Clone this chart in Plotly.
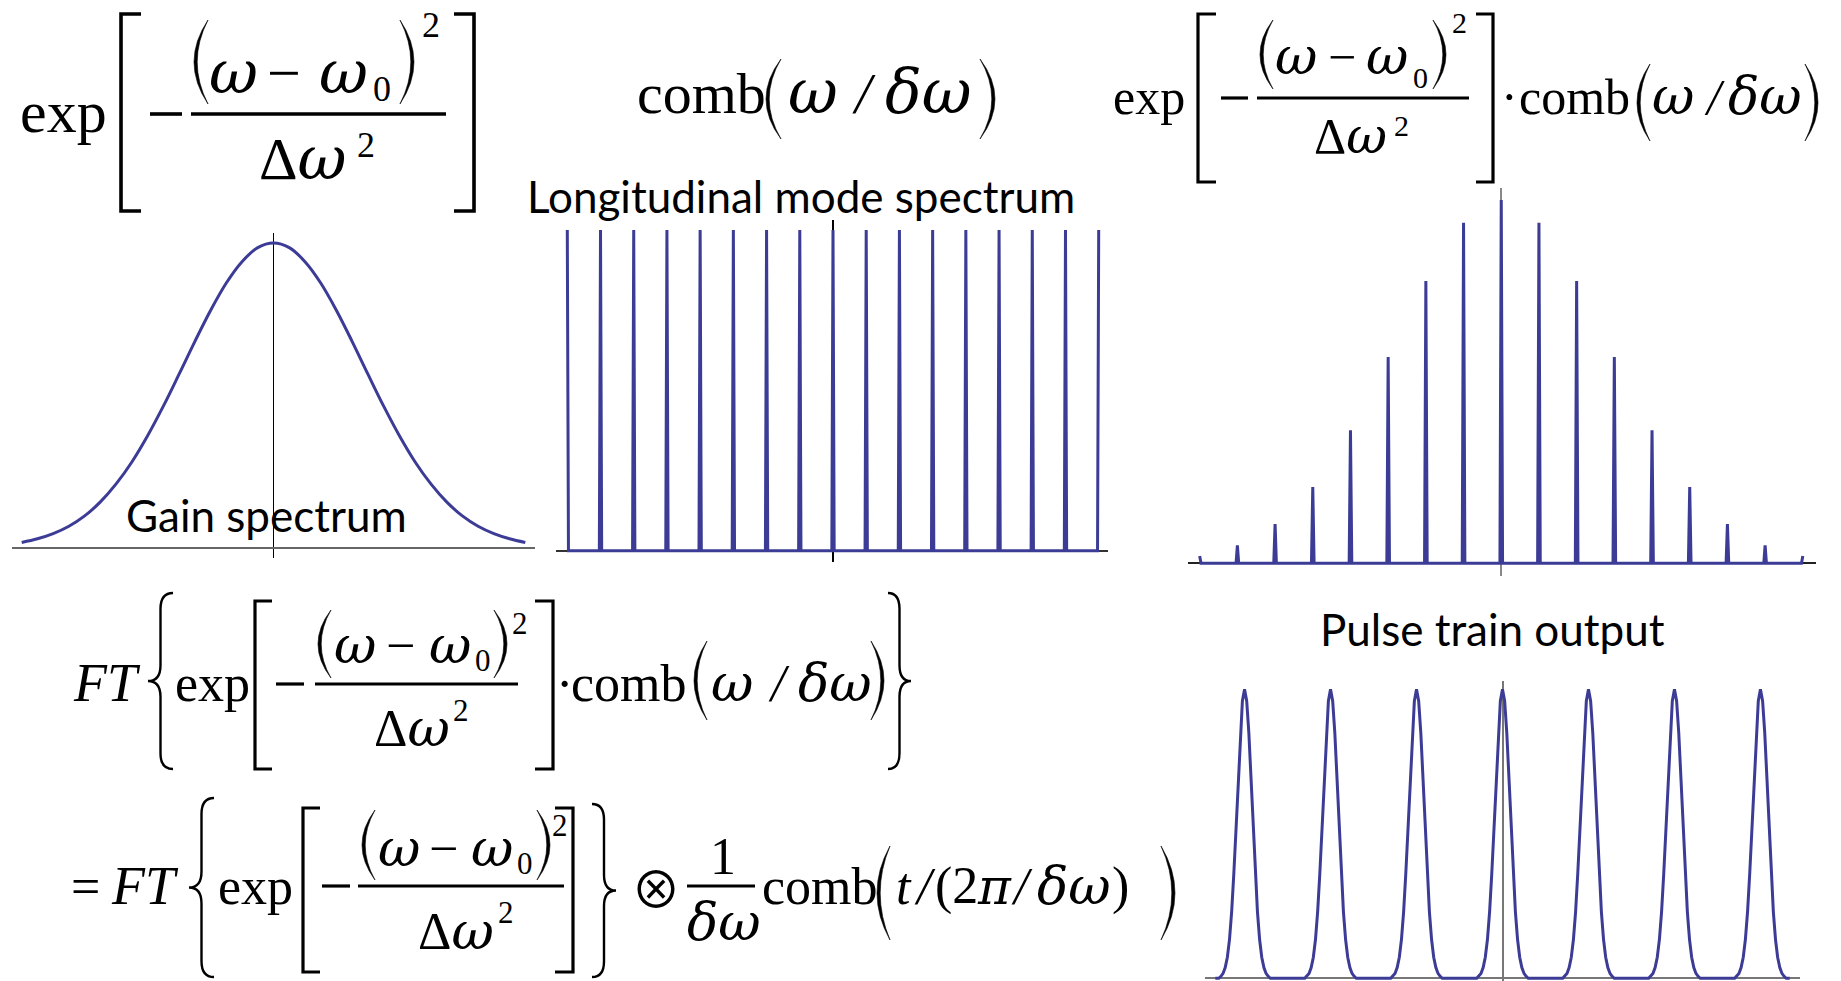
import plotly.graph_objects as go

W, H = 1841, 981

# ------------------------------------------------------------------ data
# Gain spectrum, sampled (normalised frequency offset, relative gain)
gain_u = [-2.0, -1.875, -1.75, -1.625, -1.5, -1.375, -1.25, -1.125, -1.0, -0.875, -0.75,
          -0.625, -0.5, -0.375, -0.25, -0.125, 0.0, 0.125, 0.25, 0.375, 0.5, 0.625, 0.75,
          0.875, 1.0, 1.125, 1.25, 1.375, 1.5, 1.625, 1.75, 1.875, 2.0]
gain_level = [0.018, 0.030, 0.047, 0.071, 0.105, 0.151, 0.210, 0.282, 0.368, 0.465, 0.570,
              0.677, 0.779, 0.869, 0.939, 0.985, 1.000, 0.985, 0.939, 0.869, 0.779, 0.677,
              0.570, 0.465, 0.368, 0.282, 0.210, 0.151, 0.105, 0.071, 0.047, 0.030, 0.018]

# Longitudinal modes (mode index, amplitude)
mode_n = [-8, -7, -6, -5, -4, -3, -2, -1, 0, 1, 2, 3, 4, 5, 6, 7, 8]
mode_amp = [1.0, 1.0, 1.0, 1.0, 1.0, 1.0, 1.0, 1.0, 1.0, 1.0, 1.0, 1.0, 1.0, 1.0, 1.0, 1.0, 1.0]

# Gain x comb (mode amplitudes)
product_amp = [0.020, 0.049, 0.108, 0.210, 0.366, 0.568, 0.777, 0.937, 1.000,
               0.937, 0.777, 0.568, 0.366, 0.210, 0.108, 0.049, 0.020]

# Pulse train (time in round-trip periods)
pulse_centers = [-3, -2, -1, 0, 1, 2, 3]
pulse_offsets = [-0.3, -0.275, -0.25, -0.225, -0.2, -0.175, -0.15, -0.125, -0.1, -0.075, -0.05,
                 -0.025, 0.0, 0.025, 0.05, 0.075, 0.1, 0.125, 0.15, 0.175, 0.2, 0.225, 0.25,
                 0.275, 0.3]
pulse_profile = [0.0, 0.007, 0.017, 0.037, 0.073, 0.135, 0.230, 0.361, 0.520, 0.693, 0.849,
                 0.960, 1.0, 0.960, 0.849, 0.693, 0.520, 0.361, 0.230, 0.135, 0.073, 0.037,
                 0.017, 0.007, 0.0]
pulse_span = [-3.34, 3.34]

# ------------------------------------------------------------------ helpers
LINE = "rgb(60,60,150)"
SPIKE_W = 0.035


def comb_xy(ns, amps):
    xs, ys = [], []
    for i, (n, a) in enumerate(zip(ns, amps)):
        if i > 0:
            xs.append(n - SPIKE_W); ys.append(0)
        xs.append(n); ys.append(a)
        if i < len(ns) - 1:
            xs.append(n + SPIKE_W); ys.append(0)
    return xs, ys


def pulse_xy():
    xs, ys = [pulse_span[0]], [0]
    for c in pulse_centers:
        for d, v in zip(pulse_offsets, pulse_profile):
            xs.append(c + d); ys.append(v)
    xs.append(pulse_span[1]); ys.append(0)
    return xs, ys


def px(x):
    return x / W


def py(y):
    return 1 - y / H


def pt(x, y):
    return f"{px(x):.5f},{py(y):.5f}"


fig = go.Figure()

cx, cy = comb_xy(mode_n, mode_amp)
qx, qy = comb_xy(mode_n, product_amp)
tx, ty = pulse_xy()

fig.add_trace(go.Scatter(x=gain_u, y=gain_level, mode="lines", line=dict(color=LINE, width=3, shape="spline"),
                         xaxis="x", yaxis="y", hoverinfo="skip"))
fig.add_trace(go.Scatter(x=cx, y=cy, mode="lines", line=dict(color=LINE, width=3),
                         xaxis="x2", yaxis="y2", hoverinfo="skip"))
fig.add_trace(go.Scatter(x=qx, y=qy, mode="lines", line=dict(color=LINE, width=3),
                         xaxis="x3", yaxis="y3", hoverinfo="skip"))
fig.add_trace(go.Scatter(x=tx, y=ty, mode="lines", line=dict(color=LINE, width=3),
                         xaxis="x4", yaxis="y4", hoverinfo="skip"))


def xax(x0, x1, rng, col, wid):
    return dict(domain=[px(x0), px(x1)], range=rng, showgrid=False, showticklabels=False, ticks="",
                showline=False, zeroline=True, zerolinecolor=col, zerolinewidth=wid, fixedrange=True)


def yax(ytop, ybot, rng, col, wid):
    return dict(domain=[py(ybot), py(ytop)], range=rng, showgrid=False, showticklabels=False, ticks="",
                showline=False, zeroline=True, zerolinecolor=col, zerolinewidth=wid, fixedrange=True)


layout_axes = dict(
    xaxis=xax(12, 535, [-2.077, 2.077], "#000000", 1.3),
    yaxis=yax(233, 558, [-0.033, 1.033], "#666666", 1.6),
    xaxis2=xax(556, 1108, [-8.34, 8.28], "#000000", 1.5),
    yaxis2=yax(220, 562, [-0.035, 1.031], "#333333", 1.6),
    xaxis3=xax(1188, 1816, [-8.31, 8.35], "#888888", 2),
    yaxis3=yax(188, 576, [-0.035, 1.033], "#222222", 2),
    xaxis4=xax(1205, 1800, [-3.46, 3.46], "#777777", 2),
    yaxis4=yax(681, 981, [-0.0093, 1.029], "#777777", 2),
)

# ------------------------------------------------------------------ equation typesetting
SERIF = "Liberation Serif, Times New Roman, serif"
GREEK = "DejaVu Serif, Liberation Serif, serif"
SANS = "Lato, Open Sans, sans-serif"
ann = []
shapes = []


def T(s, x, base, size, it=False, fam=SERIF, k=0.3375, anchor="left"):
    txt = f"<i>{s}</i>" if it else s
    ann.append(dict(text=txt, x=px(x), y=py(base - k * size), xref="paper", yref="paper",
                    xanchor=anchor, yanchor="middle", showarrow=False, borderpad=0,
                    font=dict(family=fam, size=size, color="black")))


def G(s, x, base, size):
    """italic greek letters (wide, round omega)"""
    T(s, x, base, size, it=True, fam=GREEK, k=0.346)


def D(x, base, size):
    """Delta-omega in a single text run"""
    T("Δ<span style='font-family:DejaVu Serif'><i>ω</i></span>", x, base, size, k=0.34)


def Tc(s, x, yc, size, fam=SERIF):
    ann.append(dict(text=s, x=px(x), y=py(yc), xref="paper", yref="paper",
                    xanchor="left", yanchor="middle", showarrow=False, borderpad=0,
                    font=dict(family=fam, size=size, color="black")))


def L(x0, y0, x1, y1, w=3):
    shapes.append(dict(type="line", xref="paper", yref="paper", x0=px(x0), y0=py(y0), x1=px(x1), y1=py(y1),
                       line=dict(color="black", width=w)))


def bracket(x, serif, top, bot, w=3.5):
    shapes.append(dict(type="path", xref="paper", yref="paper",
                       path=f"M{pt(serif, top)} L{pt(x, top)} L{pt(x, bot)} L{pt(serif, bot)}",
                       line=dict(color="black", width=w), fillcolor="rgba(0,0,0,0)"))


def paren(outer, tip, top, bot, th=3.2):
    mid = (top + bot) / 2
    sgn = 1 if tip > outer else -1
    c_out = 2 * outer - tip
    c_in = 2 * (outer + sgn * th) - tip
    path = f"M{pt(tip, top)} Q{pt(c_out, mid)} {pt(tip, bot)} Q{pt(c_in, mid)} {pt(tip, top)} Z"
    shapes.append(dict(type="path", xref="paper", yref="paper", path=path,
                       line=dict(color="black", width=0.6), fillcolor="black"))


def brace(xa, xb, top, bot, w=2.4):
    xm = (xa + xb) / 2
    mid = (top + bot) / 2
    r = 0.09 * (bot - top)
    path = (f"M{pt(xa, top)} Q{pt(xm, top)} {pt(xm, top + r)} L{pt(xm, mid - r)} "
            f"Q{pt(xm, mid)} {pt(xb, mid)} Q{pt(xm, mid)} {pt(xm, mid + r)} "
            f"L{pt(xm, bot - r)} Q{pt(xm, bot)} {pt(xa, bot)}")
    shapes.append(dict(type="path", xref="paper", yref="paper", path=path,
                       line=dict(color="black", width=w), fillcolor="rgba(0,0,0,0)"))


# ---- Eq 1 : top-left
T("exp", 19, 132, 60)
bracket(121, 141, 14, 211, 3.6)
L(150, 114, 182, 114, 3.6)
L(191, 114, 446, 114, 3.6)
paren(194, 208, 20, 104)
G("ω", 208, 93, 60)
T("−", 266, 93, 60)
G("ω", 318, 93, 60)
T("0", 372, 101, 36)
paren(414, 400, 20, 104)
T("2", 421, 37, 36)
D(258, 178, 60)
T("2", 356, 157, 36)
bracket(474, 454, 14, 211, 3.6)

# ---- Eq 2 : comb
T("comb", 636, 113, 58)
paren(766, 781, 59, 139)
G("ω", 787, 113, 61)
T("/", 851, 113, 58, it=True)
G("δω", 884, 113, 61)
paren(995, 980, 59, 139)

# ---- Eq 3 : top-right
T("exp", 1112, 114, 50)
bracket(1198, 1216, 14, 182, 3.2)
L(1221, 98, 1248, 98, 3.2)
L(1257, 98, 1469, 98, 3.2)
paren(1260, 1273, 20, 89)
G("ω", 1274, 74, 52)
T("−", 1327, 74, 50)
G("ω", 1365, 74, 52)
T("0", 1412, 88, 30)
paren(1446, 1433, 20, 89)
T("2", 1451, 33, 30)
D(1313, 153, 50)
T("2", 1393, 136, 30)
bracket(1493, 1476, 14, 182, 3.2)
T("·", 1500, 114, 50)
T("comb", 1518, 114, 50)
paren(1637, 1650, 64, 141)
G("ω", 1651, 114, 52)
T("/", 1703, 114, 50, it=True)
G("δω", 1727, 114, 52)
paren(1818, 1805, 64, 141)

# ---- labels
T("Longitudinal mode spectrum", 801, 213, 44, fam=SANS, k=0.387, anchor="center")
T("Gain spectrum", 266, 532, 44, fam=SANS, k=0.387, anchor="center")
T("Pulse train output", 1492, 646, 44, fam=SANS, k=0.387, anchor="center")

# ---- FT line 1
T("FT", 72, 701, 54, it=True)
brace(173, 148, 593, 769)
T("exp", 174, 701, 52)
bracket(255, 272, 601, 769, 3.2)
L(276, 684, 304, 684, 3.2)
L(315, 684, 518, 684, 3.2)
paren(318, 331, 610, 678)
G("ω", 333, 663, 52)
T("−", 385, 663, 52)
G("ω", 428, 663, 52)
T("0", 474, 671, 31)
paren(507, 494, 610, 678)
T("2", 511, 634, 31)
D(373, 746, 52)
T("2", 452, 721, 31)
bracket(553, 535, 601, 769, 3.2)
T("·", 555, 701, 52)
T("comb", 570, 701, 52)
paren(694, 707, 641, 720)
G("ω", 710, 701, 52)
T("/", 767, 701, 52, it=True)
G("δω", 797, 701, 52)
paren(884, 871, 641, 720)
brace(888, 911, 593, 769)

# ---- FT line 2
T("=", 70, 904, 52)
T("FT", 110, 904, 54, it=True)
brace(214, 189, 798, 977)
T("exp", 217, 904, 52)
bracket(303, 320, 808, 972, 3.2)
L(322, 886, 350, 886, 3.2)
L(358, 886, 564, 886, 3.2)
paren(362, 375, 810, 880)
G("ω", 377, 866, 52)
T("−", 428, 866, 52)
G("ω", 470, 866, 52)
T("0", 516, 874, 31)
paren(550, 537, 810, 880)
T("2", 551, 836, 31)
D(417, 949, 52)
T("2", 497, 923, 31)
bracket(573, 555, 808, 972, 3.2)
brace(592, 616, 804, 977)
Tc("⊗", 630, 886, 50, fam="Noto Sans CJK JP, DejaVu Sans, sans-serif")
T("1", 709, 874, 52)
L(687, 886, 755, 886, 3)
G("δω", 686, 940, 52)
T("comb", 761, 904, 52)
paren(877, 890, 846, 940)
T("t", 895, 904, 52, it=True)
T("/", 913, 904, 52, it=True)
T("(2", 934, 904, 52)
G("π", 976, 904, 50)
T("/", 1010, 904, 52, it=True)
G("δω", 1036, 904, 52)
T(")", 1111, 904, 52)
paren(1175, 1161, 846, 940)

fig.update_layout(
    width=W, height=H, margin=dict(l=0, r=0, t=0, b=0),
    paper_bgcolor="white", plot_bgcolor="white", showlegend=False,
    annotations=ann, shapes=shapes, **layout_axes,
)

fig.write_html("out.html", config={"displayModeBar": False})
